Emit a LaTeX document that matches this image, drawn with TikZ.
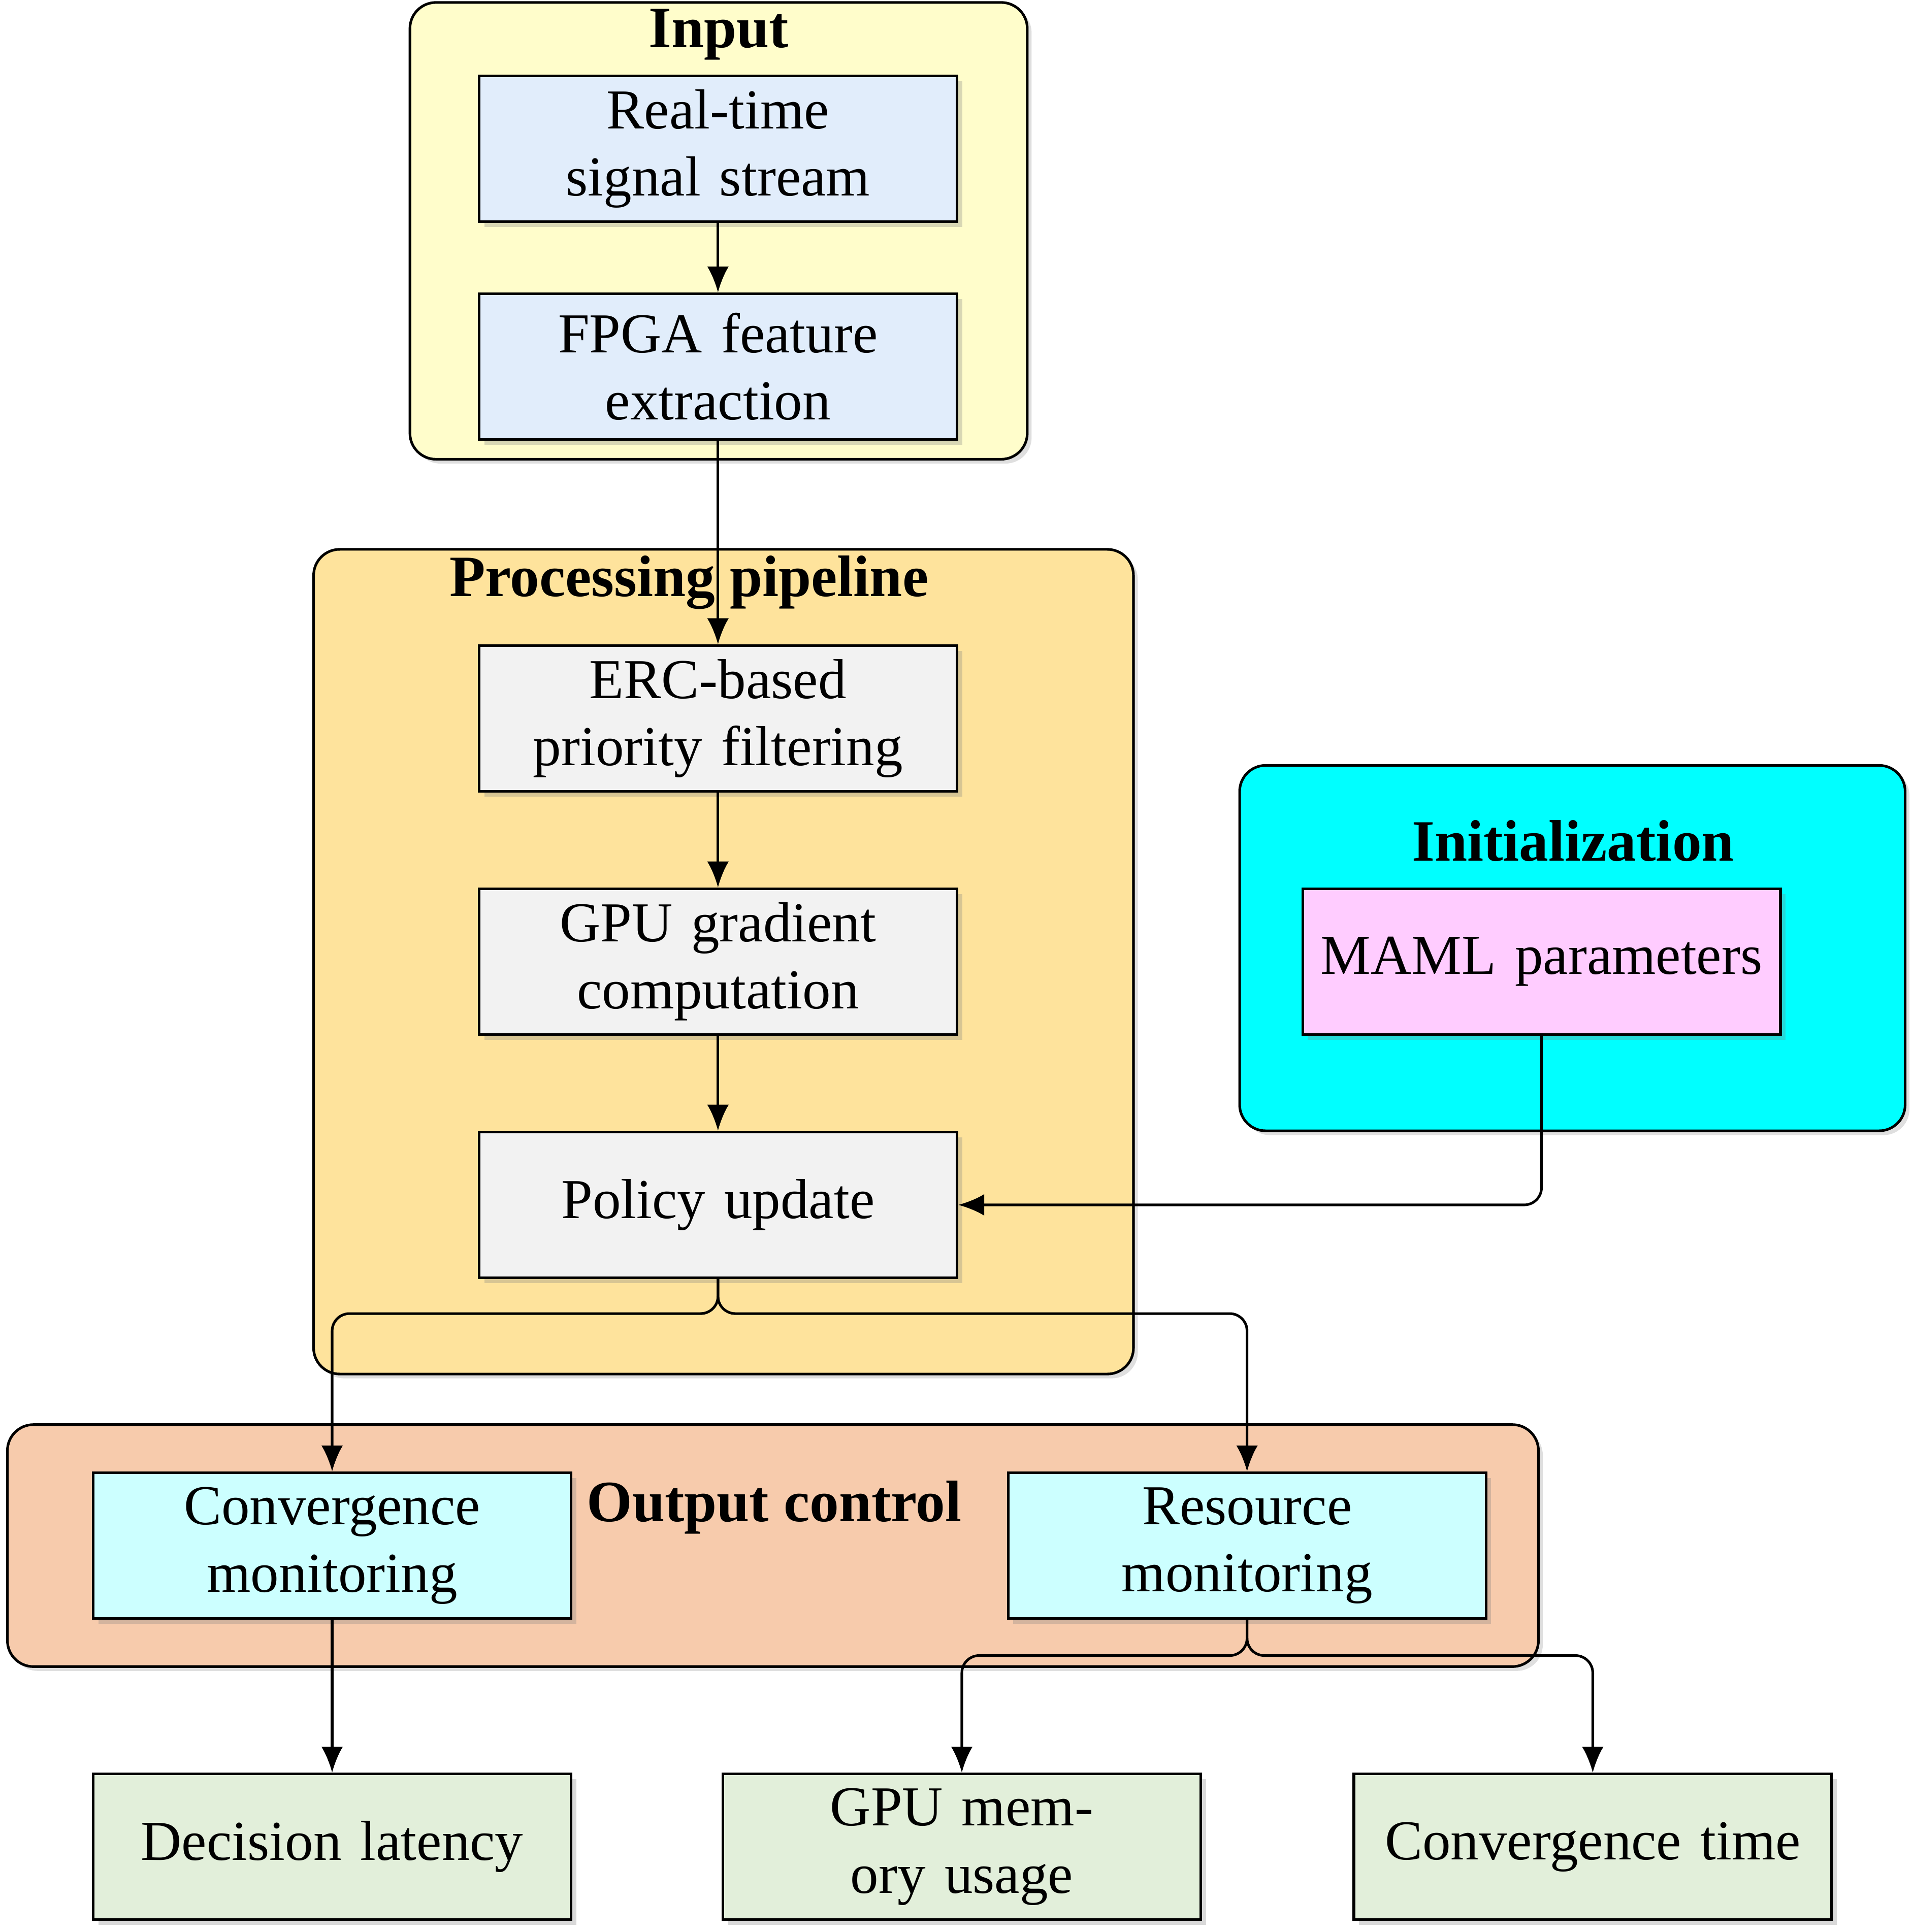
\documentclass[tikz,border=0pt]{standalone}
\usepackage{fontspec}
\setmainfont{Liberation Serif}
\usetikzlibrary{arrows.meta, positioning, shadows}
\definecolor{inputFill}{RGB}{255, 253, 203}
\definecolor{inputBox}{RGB}{225, 237, 251}
\definecolor{procFill}{RGB}{254, 227, 156}
\definecolor{procBox}{RGB}{242, 242, 242}
\definecolor{initFill}{RGB}{0, 255, 255}
\definecolor{initBox}{RGB}{255, 204, 255}
\definecolor{outFill}{RGB}{247, 203, 172}
\definecolor{outBox}{RGB}{204, 255, 255}
\definecolor{metricBox}{RGB}{226, 239, 218}

\begin{document}
\begin{tikzpicture}[
    group/.style={
        rectangle,
        draw=black,
        fill=#1,
        rounded corners=6pt,
        line width=0.6pt,
        drop shadow={opacity=0.25, shadow xshift=1pt, shadow yshift=-1pt}
    },
    stage/.style={
        rectangle,
        draw=black,
        fill=#1,
        minimum width=3.87cm,
        minimum height=1.18cm,
        align=center,
        line width=0.6pt,
        text width=3.6cm,
        inner sep=0pt,
        font=\fontsize{13}{15.5}\selectfont,
        drop shadow={opacity=0.3, shadow xshift=1.2pt, shadow yshift=-1.2pt}
    },
    grouptitle/.style={font=\fontsize{13.5}{16}\selectfont\bfseries},
    arrow/.style={-{Latex[length=6pt, width=5pt]}, line width=0.6pt, rounded corners=4pt}
]
    \useasboundingbox (0,0) rectangle (15.5,-15.65);

    % Containers
    \draw[group=inputFill] (3.32,-0.02) rectangle (8.32,-3.72);
    \draw[group=procFill] (2.54,-4.45) rectangle (9.18,-11.13);
    \draw[group=initFill] (10.04,-6.2) rectangle (15.43,-9.16);
    \draw[group=outFill] (0.06,-11.54) rectangle (12.46,-13.5);

    \node[grouptitle] (inputTitle) at (5.82,-0.28) {Input};
    \node[grouptitle] (procTitle) at (5.58,-4.72) {Processing pipeline};
    \node[grouptitle] (initTitle) at (12.74,-6.81) {Initialization};
    \node[grouptitle] (outTitle) at (6.27,-12.21) {Output control};

    % Input
    \node[stage=inputBox] (signal) at (5.815,-1.205) {Real-time signal stream};
    \node[stage=inputBox] (fpga) at (5.815,-2.97) {FPGA feature extraction};

    % Processing pipeline
    \node[stage=procBox] (erc) at (5.815,-5.82) {ERC-based priority filtering};
    \node[stage=procBox] (grad) at (5.815,-7.79) {GPU gradient computation};
    \node[stage=procBox] (policy) at (5.815,-9.76) {Policy update};

    % Initialization
    \node[stage=initBox] (maml) at (12.485,-7.79) {MAML parameters};

    % Output control
    \node[stage=outBox] (conv) at (2.69,-12.52) {Convergence monitoring};
    \node[stage=outBox] (resource) at (10.1,-12.52) {Resource monitoring};

    % Metrics
    \node[stage=metricBox] (latency) at (2.69,-14.96) {Decision latency};
    \node[stage=metricBox] (memory) at (7.79,-14.96) {GPU memory usage};
    \node[stage=metricBox] (convtime) at (12.9,-14.96) {Convergence time};

    % Connections
    \draw[arrow] (signal) -- (fpga);
    \draw[arrow] (fpga) -- (erc);
    \draw[arrow] (erc) -- (grad);
    \draw[arrow] (grad) -- (policy);
    \draw[arrow] (maml.south) |- (policy.east);
    \draw[arrow] (policy.south) -- ++(0,-0.28) -| (conv.north);
    \draw[arrow] (policy.south) -- ++(0,-0.28) -| (resource.north);
    \draw[arrow] (conv) -- (latency);
    \draw[arrow] (resource.south) -- ++(0,-0.29) -| (memory.north);
    \draw[arrow] (resource.south) -- ++(0,-0.29) -| (convtime.north);

\end{tikzpicture}
\end{document}
